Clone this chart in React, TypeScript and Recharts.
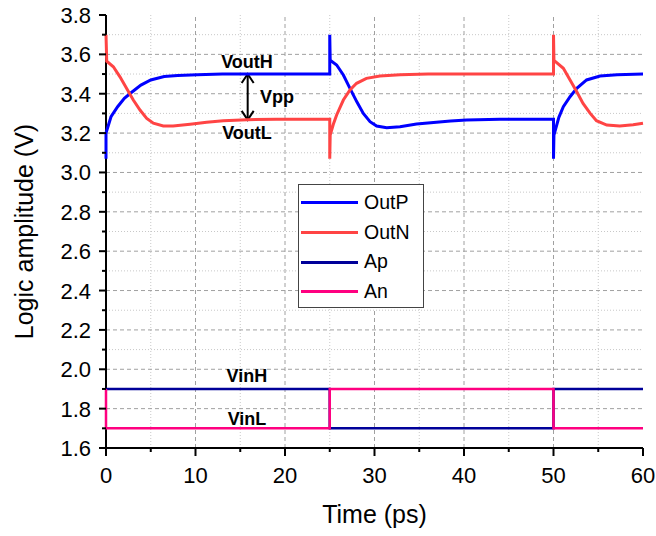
import { LineChart, Line, XAxis, YAxis, ReferenceLine, ReferenceDot, Legend } from 'recharts'

const FONT = 'Arial, "Liberation Sans", sans-serif'

// time (ps), voltage (V) pairs
const outPPoints: [number, number][] = [
  [0, 3.07], [0, 3.2], [0.56, 3.283], [1.3, 3.334], [2.05, 3.377], [2.8, 3.405], [3.9, 3.444],
  [5, 3.47], [6.5, 3.487], [8, 3.493], [10.2, 3.497], [13, 3.5], [25, 3.5],
  [25, 3.7], [25.05, 3.57], [25.77, 3.546], [26.52, 3.495], [27.26, 3.427], [28.01, 3.36],
  [28.75, 3.3], [29.5, 3.258], [30.24, 3.236], [31.36, 3.227], [32.85, 3.232], [34.7, 3.246],
  [36.6, 3.254], [38.5, 3.262], [40.3, 3.267], [44, 3.27], [50, 3.27],
  [50, 3.07], [50.05, 3.19], [50.6, 3.28], [51.1, 3.334], [51.85, 3.385], [52.6, 3.427],
  [53.7, 3.47], [55.2, 3.49], [57.1, 3.497], [60, 3.5],
]

const outNPoints: [number, number][] = [
  [0, 3.7], [0.08, 3.565], [0.82, 3.537], [1.56, 3.486], [2.31, 3.427], [3.05, 3.368],
  [3.8, 3.317], [4.55, 3.275], [5.29, 3.25], [6.4, 3.236], [7.5, 3.236], [9.4, 3.245],
  [11.25, 3.255], [13.1, 3.263], [15.75, 3.268], [19, 3.27], [25, 3.27],
  [25, 3.07], [25.05, 3.19], [25.4, 3.245], [25.77, 3.292], [26.52, 3.368], [27.26, 3.419],
  [28, 3.453], [29.1, 3.478], [30.6, 3.49], [32.85, 3.497], [36, 3.5], [50, 3.5],
  [50, 3.7], [50.05, 3.57], [51.1, 3.529], [51.85, 3.47], [52.6, 3.41], [53.3, 3.351],
  [54.1, 3.3], [54.8, 3.263], [55.95, 3.241], [57.4, 3.236], [58.9, 3.242], [60, 3.25],
]

const apPoints: [number, number][] = [[0, 1.9], [25, 1.9], [25, 1.7], [50, 1.7], [50, 1.9], [60, 1.9]]
const anPoints: [number, number][] = [[0, 1.9], [0, 1.7], [25, 1.7], [25, 1.9], [50, 1.9], [50, 1.7], [60, 1.7]]

const seriesOrder = ['OutP', 'OutN', 'Ap', 'An']
const timeTicks = [0, 5, 10, 15, 20, 25, 30, 35, 40, 45, 50, 55, 60]
const voltTicks = [1.6, 1.7, 1.8, 1.9, 2.0, 2.1, 2.2, 2.3, 2.4, 2.5, 2.6, 2.7, 2.8, 2.9, 3.0, 3.1, 3.2, 3.3, 3.4, 3.5, 3.6, 3.7, 3.8]
const gridMajorX = [10, 20, 30, 40, 50]
const gridMinorX = [5, 15, 25, 35, 45, 55]
const gridMajorY = [1.8, 2.0, 2.2, 2.4, 2.6, 2.8, 3.0, 3.2, 3.4, 3.6]
const gridMinorY = [1.7, 1.9, 2.1, 2.3, 2.5, 2.7, 2.9, 3.1, 3.3, 3.5, 3.7]

const toRows = (pts: [number, number][]) => pts.map(([t, v]) => ({ t, v }))
const outP = toRows(outPPoints)
const outN = toRows(outNPoints)
const ap = toRows(apPoints)
const an = toRows(anPoints)

const isMajorX = (v: number) => v % 10 === 0
const isMajorY = (v: number) => Math.round(v * 10) % 2 === 0

function BottomTick({ x, y, payload }: any) {
  const major = isMajorX(payload.value)
  return (
    <g>
      <line x1={x} y1={y} x2={x} y2={y + (major ? 8 : 4)} stroke="#000" strokeWidth={2} />
      {major && (
        <text x={x} y={y + 34.5} textAnchor="middle" fontSize={22} fontFamily={FONT} fill="#000">
          {payload.value}
        </text>
      )}
    </g>
  )
}

function LeftTick({ x, y, payload }: any) {
  const major = isMajorY(payload.value)
  return (
    <g>
      <line x1={x} y1={y} x2={x - (major ? 7 : 4)} y2={y} stroke="#000" strokeWidth={2} />
      {major && (
        <text x={x - 15} y={y + 8} textAnchor="end" fontSize={22} fontFamily={FONT} fill="#000">
          {payload.value.toFixed(1)}
        </text>
      )}
    </g>
  )
}

function TopTick({ x, y, payload }: any) {
  const major = isMajorX(payload.value)
  return <line x1={x} y1={y} x2={x} y2={y + (major ? 8 : 4)} stroke="#000" strokeWidth={2} />
}

function RightTick({ x, y, payload }: any) {
  const major = isMajorY(payload.value)
  return <line x1={x} y1={y} x2={x - (major ? 8 : 4)} y2={y} stroke="#000" strokeWidth={2} />
}

function ArrowShape({ x1, y1, y2 }: any) {
  const top = Math.min(y1, y2)
  const bot = Math.max(y1, y2)
  return (
    <g stroke="#000" strokeWidth={2} fill="none">
      <line x1={x1} y1={top} x2={x1} y2={bot} />
      <polyline points={`${x1 - 6},${top + 9} ${x1},${top} ${x1 + 6},${top + 9}`} />
      <polyline points={`${x1 - 6},${bot - 9} ${x1},${bot} ${x1 + 6},${bot - 9}`} />
    </g>
  )
}

function LegendBox({ payload }: any) {
  const items = (payload || [])
    .filter((p: any) => p.type !== 'none' && seriesOrder.includes(p.value))
    .sort((a: any, b: any) => seriesOrder.indexOf(a.value) - seriesOrder.indexOf(b.value))
  return (
    <div
      style={{
        width: 126,
        height: 124,
        boxSizing: 'border-box',
        border: '1px solid #444',
        background: '#fff',
        paddingTop: 3,
      }}
    >
      {items.map((p: any) => (
        <div key={p.value} style={{ height: 29.7, display: 'flex', alignItems: 'center' }}>
          <span style={{ marginLeft: 2, width: 57, height: 3, background: p.color, display: 'inline-block' }} />
          <span style={{ marginLeft: 6, fontSize: 19.5, lineHeight: 1, fontFamily: FONT, color: '#000' }}>{p.value}</span>
        </div>
      ))}
    </div>
  )
}

const annLabel = (value: string) => ({
  value,
  position: 'center' as const,
  fontSize: 18,
  fontWeight: 700,
  fontFamily: FONT,
  fill: '#000',
})

export default function App() {
  const axisLine = { stroke: '#000', strokeWidth: 2 }
  return (
    <div style={{ position: 'absolute', left: 0, top: 0 }}>
      <LineChart width={656} height={536} margin={{ top: 15, right: 13, bottom: 0, left: 0 }}>
        {gridMinorX.map((v) => (
          <ReferenceLine key={'mx' + v} x={v} stroke="#c8c8c8" strokeDasharray="1 2" zIndex={-100} />
        ))}
        {gridMinorY.map((v) => (
          <ReferenceLine key={'my' + v} y={v} stroke="#c8c8c8" strokeDasharray="1 2" zIndex={-100} />
        ))}
        {gridMajorX.map((v) => (
          <ReferenceLine key={'gx' + v} x={v} stroke="#a0a0a0" strokeDasharray="4 3" zIndex={-100} />
        ))}
        {gridMajorY.map((v) => (
          <ReferenceLine key={'gy' + v} y={v} stroke="#a0a0a0" strokeDasharray="4 3" zIndex={-100} />
        ))}

        <XAxis
          dataKey="t"
          type="number"
          domain={[0, 60]}
          ticks={timeTicks}
          interval={0}
          height={88}
          tickSize={0}
          tickMargin={0}
          tickLine={false}
          axisLine={axisLine}
          tick={(p: any) => <BottomTick {...p} />}
          label={{ value: 'Time (ps)', position: 'insideBottom', offset: 13, fontSize: 25, fontFamily: FONT, fill: '#000' }}
        />
        <XAxis
          xAxisId="top"
          orientation="top"
          dataKey="t"
          type="number"
          domain={[0, 60]}
          ticks={timeTicks}
          interval={0}
          height={0}
          tickSize={0}
          tickMargin={0}
          tickLine={false}
          axisLine={axisLine}
          tick={(p: any) => <TopTick {...p} />}
        />
        <YAxis
          type="number"
          domain={[1.6, 3.8]}
          ticks={voltTicks}
          interval={0}
          width={106}
          tickSize={0}
          tickMargin={0}
          tickLine={false}
          axisLine={axisLine}
          tick={(p: any) => <LeftTick {...p} />}
          label={{
            value: 'Logic amplitude (V)',
            angle: -90,
            position: 'insideLeft',
            offset: 24,
            style: { textAnchor: 'middle' },
            fontSize: 25,
            fontFamily: FONT,
            fill: '#000',
          }}
        />
        <YAxis
          yAxisId="right"
          orientation="right"
          type="number"
          domain={[1.6, 3.8]}
          ticks={voltTicks}
          interval={0}
          width={0}
          tickSize={0}
          tickMargin={0}
          tickLine={false}
          axisLine={axisLine}
          tick={(p: any) => <RightTick {...p} />}
        />

        <Line data={outP} dataKey="v" name="OutP" type="linear" stroke="#0000ff" strokeWidth={3} dot={false} activeDot={false} isAnimationActive={false} zIndex={600} />
        <Line data={outN} dataKey="v" name="OutN" type="linear" stroke="#ff4444" strokeWidth={3} dot={false} activeDot={false} isAnimationActive={false} zIndex={600} />
        <Line data={ap} dataKey="v" name="Ap" type="linear" stroke="#000099" strokeWidth={2.5} dot={false} activeDot={false} isAnimationActive={false} zIndex={600} />
        <Line data={an} dataKey="v" name="An" type="linear" stroke="#ff0080" strokeWidth={2.5} dot={false} activeDot={false} isAnimationActive={false} zIndex={600} />
        <Line data={outP} dataKey="v" xAxisId="top" yAxisId="right" stroke="none" legendType="none" dot={false} activeDot={false} isAnimationActive={false} />

        <ReferenceLine segment={[{ x: 15.83, y: 3.5 }, { x: 15.83, y: 3.267 }]} shape={(p: any) => <ArrowShape {...p} />} />
        <ReferenceDot x={15.75} y={3.564} r={0} fill="none" stroke="none" label={annLabel('VoutH')} />
        <ReferenceDot x={15.75} y={3.203} r={0} fill="none" stroke="none" label={annLabel('VoutL')} />
        <ReferenceDot x={19.1} y={3.386} r={0} fill="none" stroke="none" label={annLabel('Vpp')} />
        <ReferenceDot x={15.75} y={1.968} r={0} fill="none" stroke="none" label={annLabel('VinH')} />
        <ReferenceDot x={15.75} y={1.75} r={0} fill="none" stroke="none" label={annLabel('VinL')} />

        <Legend
          layout="vertical"
          align="center"
          verticalAlign="middle"
          content={(p: any) => <LegendBox {...p} />}
          wrapperStyle={{ left: 298, top: 184, width: 126, height: 124 }}
        />
      </LineChart>
    </div>
  )
}
